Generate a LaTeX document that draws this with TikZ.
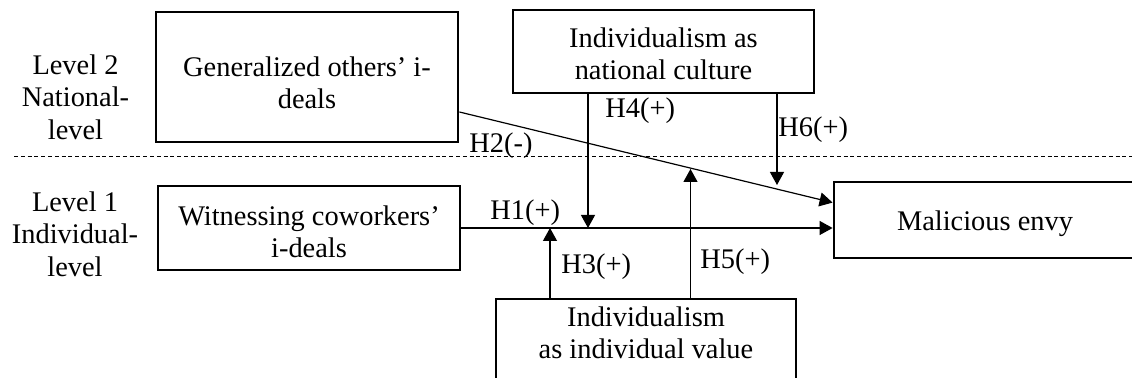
\documentclass[tikz,border=0pt]{standalone}
\usepackage{fontspec}
\setmainfont{Liberation Serif}
\usetikzlibrary{arrows.meta,calc}
\begin{document}
\begin{tikzpicture}[x=0.5pt,y=-0.5pt,
  every node/.style={font=\fontsize{14.2}{15.8}\selectfont},
  box/.style={draw, line width=1.4pt, inner sep=0pt},
  btext/.style={align=center, inner sep=0pt},
  conn/.style={line width=0.6pt, -{Triangle[length=6.5pt,width=7pt]}},
  lbl/.style={anchor=base west, inner sep=0pt},
  lev/.style={align=center, inner sep=0pt, font=\fontsize{14.2}{16.2}\selectfont}]
\useasboundingbox (0,0) rectangle (1132,378);
\clip (0,0) rectangle (1132,378);

% level divider
\draw[line width=0.5pt, dash pattern=on 2pt off 1.4pt] (14,157) -- (1132,157);

% level labels
\node[lev] (l2) at (75.5,97) {Level 2\\National-\\level};
\node[lev] (l1) at (75,234) {Level 1\\Individual-\\level};

% boxes
\node[box, minimum width=151pt, minimum height=65pt] (g) at (307,77) {};
\node[btext] (gt) at (307,83) {Generalized others' i-\\deals};
\node[box, minimum width=150.5pt, minimum height=41.5pt] (n) at (663.5,51.5) {};
\node[btext] (nt) at (663.5,53.5) {Individualism as\\national culture};
\node[box, minimum width=151pt, minimum height=42pt] (w) at (309,228) {};
\node[btext] (wt) at (309,232) {Witnessing coworkers'\\i-deals};
\node[box, minimum width=151pt, minimum height=38pt] (m) at (985,220) {};
\node[btext] (mt) at (985,224) {Malicious envy};
\draw[line width=1.4pt] (496,299) rectangle (796,440);
\node[btext] (iv) at (646,332.5) {Individualism\\as individual value};

% connector points
\coordinate (h2s) at ($(g.east)+(0,35)$);
\coordinate (h2e) at ($(m.north west)+(0,22)$);
\coordinate (h4) at (588,0);
\coordinate (h6) at (777,185);
\coordinate (h3) at (550,299);
\coordinate (h5) at (690.5,299);
\coordinate (h5e) at (690.5,169);

% connectors
\draw[conn] (w.east) -- (w.east -| m.west);
\draw[conn] (h2s) -- (h2e);
\draw[conn] (n.south -| h4) -- (h4 |- w.east);
\draw[conn] (n.south -| h6) -- (h6);
\draw[conn] (h3) -- (h3 |- w.east);
\draw[conn] (h5) -- (h5e);

% hypothesis labels
\node[lbl] (t1) at (490,220) {H1(+)};
\node[lbl] (t2) at (469,153) {H2(-)};
\node[lbl] (t3) at (561,274) {H3(+)};
\node[lbl] (t4) at (605,118) {H4(+)};
\node[lbl] (t5) at (700,269) {H5(+)};
\node[lbl] (t6) at (778,137) {H6(+)};
\end{tikzpicture}
\end{document}
